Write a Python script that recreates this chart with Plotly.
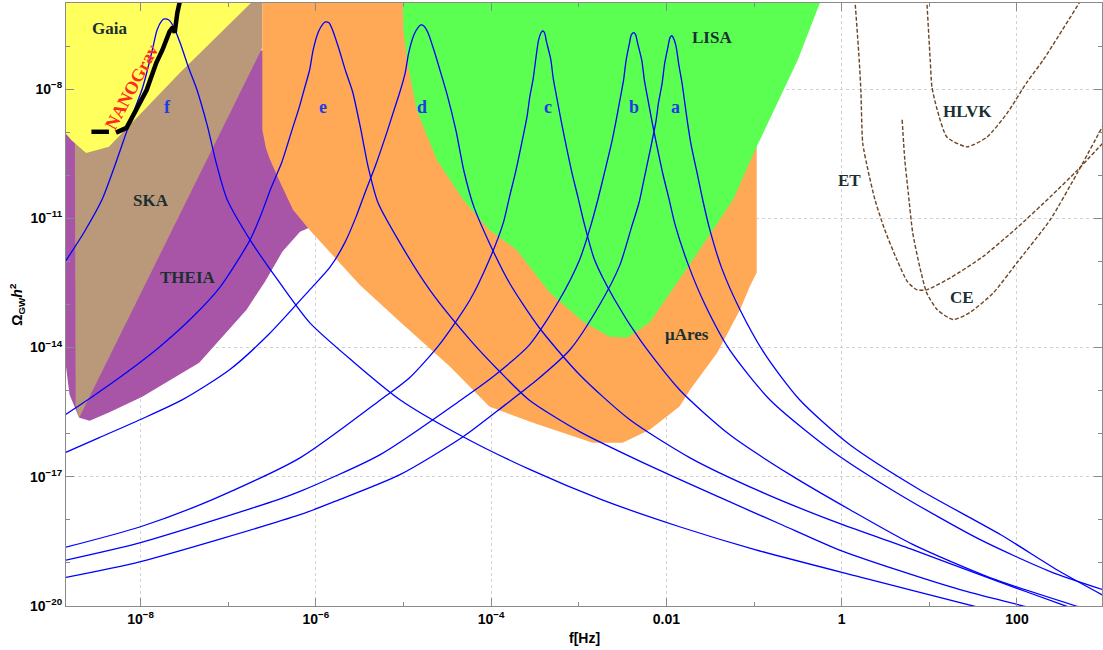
import numpy as np
import plotly.graph_objects as go

# ---------------- data (log10 f [Hz], log10 Omega_GW h^2) ----------------
curve_a = [(-8.86,-19.34),(-8.00,-18.97),(-6.18,-17.88),(-5.73,-17.53),(-5.04,-16.95),(-4.32,-16.07),
           (-3.84,-15.33),(-3.50,-14.79),(-3.10,-14.05),(-2.76,-13.00),(-2.53,-12.08),(-2.40,-11.22),
           (-2.31,-10.62),(-2.25,-10.04),(-2.17,-9.27),(-2.12,-8.76),(-2.09,-8.32),(-2.05,-7.88),
           (-2.02,-7.41),(-1.98,-7.00),(-1.96,-6.81),(-1.94,-6.76),(-1.92,-6.81),(-1.89,-7.00),
           (-1.86,-7.41),(-1.82,-7.88),(-1.79,-8.32),(-1.76,-8.76),(-1.72,-9.27),(-1.64,-10.04),
           (-1.58,-10.62),(-1.51,-11.22),(-1.37,-12.15),(-1.16,-13.12),(-0.87,-14.17),(-0.48,-15.21),
           (0.09,-16.25),(0.89,-17.30),(1.81,-18.34),(2.49,-19.20),(2.98,-19.75)]
curve_b = [(-8.86,-18.94),(-8.00,-18.53),(-6.43,-17.53),(-6.18,-17.34),(-5.27,-16.49),(-4.34,-15.21),
           (-3.95,-14.63),(-3.56,-13.93),(-3.22,-12.89),(-2.99,-11.96),(-2.86,-11.15),(-2.78,-10.55),
           (-2.71,-9.97),(-2.62,-9.20),(-2.57,-8.69),(-2.53,-8.25),(-2.49,-7.81),(-2.46,-7.34),
           (-2.42,-6.92),(-2.40,-6.74),(-2.37,-6.69),(-2.35,-6.74),(-2.33,-6.92),(-2.28,-7.34),
           (-2.25,-7.81),(-2.21,-8.25),(-2.17,-8.69),(-2.12,-9.20),(-2.04,-9.97),(-1.97,-10.55),
           (-1.90,-11.15),(-1.75,-12.08),(-1.56,-13.00),(-1.28,-14.05),(-0.82,-15.21),(-0.13,-16.37),
           (0.66,-17.41),(1.58,-18.46),(2.38,-19.20),(2.98,-19.62)]
curve_c = [(-8.86,-18.64),(-8.00,-18.16),(-7.18,-17.53),(-6.18,-16.56),(-5.26,-15.21),(-4.93,-14.70),
           (-4.59,-13.93),(-4.24,-12.89),(-4.02,-11.96),(-3.86,-11.10),(-3.79,-10.50),(-3.72,-9.92),
           (-3.64,-9.15),(-3.59,-8.64),(-3.56,-8.20),(-3.52,-7.76),(-3.49,-7.30),(-3.46,-6.88),
           (-3.43,-6.69),(-3.41,-6.65),(-3.39,-6.69),(-3.37,-6.88),(-3.32,-7.30),(-3.29,-7.76),
           (-3.25,-8.20),(-3.21,-8.64),(-3.16,-9.15),(-3.08,-9.92),(-3.01,-10.50),(-2.94,-11.10),
           (-2.82,-11.96),(-2.59,-12.89),(-2.30,-13.82),(-1.85,-14.98),(-1.28,-16.02),(-0.59,-16.95),
           (0.09,-17.76),(0.81,-18.57),(1.69,-19.34),(2.69,-20.01),(2.95,-20.17)]
curve_d = [(-8.86,-16.44),(-8.47,-16.09),(-8.00,-15.67),(-7.52,-15.21),(-6.98,-14.51),(-6.53,-13.68),
           (-6.07,-12.66),(-5.84,-12.14),(-5.67,-11.57),(-5.54,-10.96),(-5.43,-10.36),(-5.32,-9.78),
           (-5.19,-9.01),(-5.11,-8.50),(-5.04,-8.06),(-4.98,-7.62),(-4.94,-7.16),(-4.88,-6.74),
           (-4.83,-6.56),(-4.80,-6.51),(-4.77,-6.53),(-4.72,-6.69),(-4.65,-7.11),(-4.57,-7.65),
           (-4.50,-8.14),(-4.40,-8.97),(-4.31,-9.90),(-4.20,-10.71),(-4.02,-11.57),(-3.79,-12.50),
           (-3.45,-13.54),(-2.99,-14.63),(-2.42,-15.67),(-1.73,-16.56),(-0.93,-17.34),(-0.02,-18.09),
           (0.81,-18.69),(1.69,-19.36),(2.57,-20.01),(2.83,-20.20)]
curve_e = [(-8.86,-15.56),(-8.55,-15.14),(-8.16,-14.58),(-7.78,-13.98),(-7.40,-13.28),(-7.09,-12.59),
           (-6.75,-11.50),(-6.62,-10.89),(-6.51,-10.29),(-6.39,-9.71),(-6.27,-8.94),(-6.19,-8.43),
           (-6.13,-7.99),(-6.07,-7.55),(-6.03,-7.09),(-5.97,-6.67),(-5.92,-6.49),(-5.89,-6.44),
           (-5.85,-6.46),(-5.81,-6.62),(-5.74,-7.04),(-5.66,-7.58),(-5.58,-8.06),(-5.49,-8.90),
           (-5.40,-9.83),(-5.29,-10.64),(-5.04,-11.57),(-4.70,-12.66),(-4.24,-13.82),(-3.90,-14.56),
           (-3.57,-15.21),(-2.99,-15.95),(-2.10,-16.83),(-1.39,-17.48),(-0.71,-18.09),(-0.04,-18.69),
           (0.66,-19.18),(1.35,-19.62),(2.09,-20.01),(2.38,-20.17)]
curve_f = [(-8.86,-12.01),(-8.64,-11.31),(-8.44,-10.57),(-8.29,-9.76),(-8.15,-8.94),(-8.06,-8.43),
           (-7.98,-7.99),(-7.92,-7.55),(-7.86,-7.04),(-7.81,-6.62),(-7.76,-6.42),(-7.73,-6.37),
           (-7.68,-6.39),(-7.62,-6.56),(-7.54,-6.97),(-7.45,-7.51),(-7.36,-7.99),(-7.24,-8.83),
           (-7.13,-9.76),(-7.01,-10.57),(-6.75,-11.50),(-6.41,-12.50),(-6.07,-13.42),(-5.56,-14.35),
           (-5.04,-15.21),(-4.32,-16.07),(-3.56,-16.83),(-2.74,-17.53),(-1.85,-18.16),(-0.99,-18.69),
           (0.27,-19.36),(1.52,-20.01),(1.81,-20.15)]
spectra = {"a": curve_a, "b": curve_b, "c": curve_c, "d": curve_d, "e": curve_e, "f": curve_f}
spectrum_label_pos = {"f": (-7.69, -8.42), "e": (-5.92, -8.42), "d": (-4.79, -8.42),
                      "c": (-3.35, -8.42), "b": (-2.37, -8.42), "a": (-1.90, -8.42)}

# sensitivity regions (log10 f, log10 Omega h^2)
theia_region = [(-8.86,-9.06),(-8.86,-14.28),(-8.81,-15.09),(-8.70,-15.63),(-8.58,-15.70),
                (-8.36,-15.51),(-7.98,-15.14),(-7.33,-14.35),(-6.79,-13.12),(-6.58,-12.47),
                (-6.38,-11.77),(-6.18,-11.31),(-5.98,-11.13),(-5.84,-9.41),(-6.61,-7.09)]
ska_region = [(-6.69,-5.9),(-6.61,-5.9),(-6.61,-7.04),(-8.70,-15.63),(-8.74,-15.33),
              (-8.75,-9.18),(-8.75,-8.25)]
gaia_region = [(-9.0,-5.9),(-6.69,-5.9),(-7.55,-7.62),(-8.36,-9.34),(-8.62,-9.48),
               (-8.79,-9.18),(-8.86,-9.01),(-9.0,-9.0)]
mu_ares_region = [(-6.61,-5.9),(-6.61,-8.94),(-6.57,-9.36),(-6.53,-9.60),(-6.41,-10.15),
                  (-6.26,-10.80),(-6.07,-11.27),(-5.84,-11.78),(-5.50,-12.54),(-5.04,-13.40),
                  (-4.47,-14.44),(-4.02,-15.37),(-3.53,-15.74),(-2.84,-16.21),(-2.50,-16.21),
                  (-2.19,-15.91),(-1.85,-15.37),(-1.73,-14.98),(-1.42,-14.12),(-1.16,-13.12),
                  (-1.05,-12.59),(-0.97,-12.26),(-0.97,-9.36),(-0.97,-5.9)]
lisa_region = [(-5.01,-5.9),(-5.00,-6.63),(-4.96,-7.32),(-4.85,-8.48),(-4.62,-9.64),(-4.32,-10.57),
               (-4.02,-11.27),(-3.71,-11.73),(-3.33,-12.73),(-2.95,-13.40),(-2.65,-13.75),
               (-2.45,-13.77),(-2.19,-13.42),(-1.88,-12.50),(-1.62,-11.73),(-1.24,-10.57),
               (-0.97,-9.34),(-0.50,-7.32),(-0.23,-5.9)]

# NANOGrav signal (two pieces)
nanograv_piece1 = [(-8.56,-8.99),(-8.36,-8.99)]
nanograv_piece2 = [(-8.28,-9.01),(-8.16,-8.90),(-8.05,-8.48),(-7.93,-8.02),(-7.82,-7.39),
                   (-7.75,-7.09),(-7.67,-6.67),(-7.63,-6.56),(-7.61,-6.69),(-7.58,-6.23),(-7.54,-5.86)]

# ground-based detector curves
et_curve = [(0.15,-5.9),(0.20,-7.32),(0.22,-8.09),(0.24,-9.25),(0.30,-9.88),(0.38,-10.57),
            (0.49,-11.26),(0.63,-11.96),(0.75,-12.47),(0.86,-12.66),(0.97,-12.66),(1.24,-12.38),
            (1.61,-11.89),(2.00,-11.22),(2.38,-10.50),(2.69,-9.88),(2.98,-9.25)]
ce_curve = [(0.69,-8.71),(0.72,-9.64),(0.76,-10.41),(0.81,-11.33),(0.89,-12.12),(0.97,-12.73),
            (1.09,-13.12),(1.27,-13.35),(1.46,-13.19),(1.73,-12.73),(2.00,-12.03),(2.38,-11.03),
            (2.69,-9.94),(2.98,-8.85)]
hlvk_curve = [(0.97,-5.9),(1.01,-7.32),(1.03,-7.95),(1.09,-8.48),(1.20,-9.11),(1.43,-9.34),
              (1.66,-9.11),(1.89,-8.55),(2.11,-7.85),(2.30,-7.32),(2.74,-5.9)]

region_labels = [("Gaia", -8.35, -6.60), ("SKA", -7.88, -10.58), ("THEIA", -7.46, -12.38),
                 ("LISA", -1.48, -6.81), ("μAres", -1.76, -13.70), ("ET", 0.09, -10.13),
                 ("HLVK", 1.43, -8.52), ("CE", 1.37, -12.84)]

x_major_vals = [1e-8, 1e-6, 1e-4, 1e-2, 1, 100]
x_major_text = ["10<sup>−8</sup>", "10<sup>−6</sup>", "10<sup>−4</sup>", "0.01", "1", "100"]
x_minor_vals = [1e-9, 1e-7, 1e-5, 1e-3, 1e-1, 10, 1000]
y_major_vals = [1e-20, 1e-17, 1e-14, 1e-11, 1e-8]
y_major_text = ["10<sup>−20</sup>", "10<sup>−17</sup>", "10<sup>−14</sup>", "10<sup>−11</sup>", "10<sup>−8</sup>"]
y_minor_vals = [10.0**k for k in range(-20, -5) if k not in (-20, -17, -14, -11, -8)]

# ---------------- figure ----------------
def xy(points):
    arr = np.array(points, dtype=float)
    return 10 ** arr[:, 0], 10 ** arr[:, 1]

fig = go.Figure()

for pts, color in [(theia_region, "#A855A8"), (ska_region, "#BA987A"), (gaia_region, "#FFFF5E"),
                   (mu_ares_region, "#FFA856"), (lisa_region, "#5AFF52")]:
    x, y = xy(pts)
    fig.add_trace(go.Scatter(x=x, y=y, mode="lines", fill="toself", fillcolor=color,
                             line=dict(width=0, color=color), hoverinfo="skip"))

for name, pts in spectra.items():
    x, y = xy(pts)
    fig.add_trace(go.Scatter(x=x, y=y, mode="lines", line=dict(color="#0000FF", width=1.3,
                             shape="spline", smoothing=0.7), name=name))

for pts in (nanograv_piece1, nanograv_piece2):
    x, y = xy(pts)
    fig.add_trace(go.Scatter(x=x, y=y, mode="lines", line=dict(color="black", width=4.5)))

for pts in (et_curve, ce_curve, hlvk_curve):
    x, y = xy(pts)
    fig.add_trace(go.Scatter(x=x, y=y, mode="lines", line=dict(color="#6B4423", width=1.4,
                             dash="4px,2px", shape="spline", smoothing=0.6)))

serif = "Liberation Serif"
for text, lx, ly in region_labels:
    fig.add_annotation(x=lx, y=ly, xref="x", yref="y", text=text, showarrow=False,
                       font=dict(family=serif, size=17, color="#1A3030", weight="bold"))
for name, (lx, ly) in spectrum_label_pos.items():
    fig.add_annotation(x=lx, y=ly, xref="x", yref="y", text=name, showarrow=False,
                       font=dict(family=serif, size=18, color="#1E3CE6", weight="bold"))
fig.add_annotation(x=-8.10, y=-7.95, xref="x", yref="y", text="NANOGrav", showarrow=False,
                   textangle=-62, font=dict(family=serif, size=18, color="#FF2A1A", weight="bold"))

fig.add_annotation(x=0.5, y=-0.053, xref="paper", yref="paper", text="f[Hz]", showarrow=False,
                   yanchor="middle", font=dict(family="Liberation Sans", size=14, color="black", weight="bold"))
fig.add_annotation(x=-0.048, y=0.5, xref="paper", yref="paper", text="Ω<sub>GW</sub><i>h</i><sup>2</sup>",
                   showarrow=False, textangle=-90, xanchor="center", yanchor="middle",
                   font=dict(family="Liberation Sans", size=14, color="black", weight="bold"))

axis_common = dict(type="log", showgrid=True, gridcolor="#D2D2D2", griddash="dot", gridwidth=1,
                   ticks="inside", ticklen=8, tickwidth=1, tickcolor="#8A8A8A",
                   showline=True, linecolor="#8A8A8A", linewidth=1, mirror="ticks", zeroline=False,
                   tickfont=dict(family="Liberation Sans", size=14, color="black", weight="bold"))
fig.update_xaxes(range=[-8.85, 2.97], tickvals=x_major_vals, ticktext=x_major_text,
                 minor=dict(tickvals=x_minor_vals, ticks="inside", ticklen=4, tickcolor="#8A8A8A",
                            showgrid=False), **axis_common)
fig.update_yaxes(range=[-20.0, -6.0], tickvals=y_major_vals, ticktext=y_major_text,
                 minor=dict(tickvals=y_minor_vals, ticks="inside", ticklen=4, tickcolor="#8A8A8A",
                            showgrid=False), **axis_common)

fig.update_layout(width=1103, height=650, margin=dict(l=66, r=1, t=3, b=44),
                  paper_bgcolor="white", plot_bgcolor="white", showlegend=False)
fig.write_html("out.html")
